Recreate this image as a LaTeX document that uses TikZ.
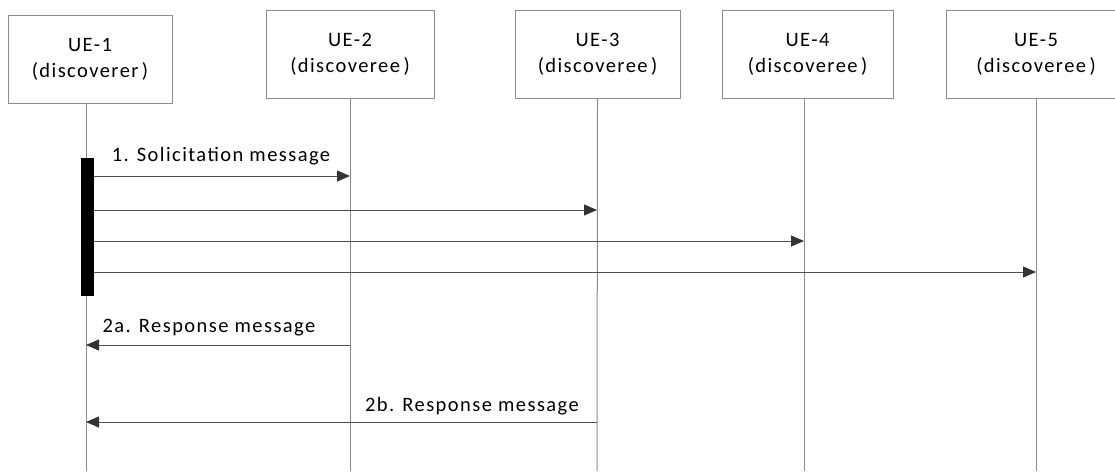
\documentclass[tikz,border=0pt]{standalone}
\usepackage{fontspec}
\setmainfont{Carlito}[LetterSpace=7]
\usetikzlibrary{arrows.meta}
\definecolor{lifegray}{HTML}{8C8C8C}
\definecolor{arrowgray}{HTML}{505050}
\definecolor{tipgray}{HTML}{333333}
\tikzset{
  uebox/.style={draw=lifegray, line width=1pt, fill=white, minimum height=88pt, inner sep=0pt, align=center, font=\fontsize{20.5}{26}\selectfont},
  lifeline/.style={draw=lifegray, line width=1pt},
  msg/.style={draw=arrowgray, line width=0.9pt, -{Triangle[length=13pt,width=11pt,fill=tipgray,color=tipgray]}},
  lbl/.style={font=\fontsize{20.5}{24}\selectfont, inner sep=0pt, anchor=base},
  actbar/.style={fill=black, draw=none}
}
\begin{document}
\begin{tikzpicture}[x=1pt,y=-1pt]
\useasboundingbox (0,0) rectangle (1115,471);
% boxes
\node[uebox, minimum width=164pt] (ue1) at (90,59) {UE-1\\(discoverer\,)};
\node[uebox, minimum width=168pt] (ue2) at (350,54) {UE-2\\(discoveree\,)};
\node[uebox, minimum width=165pt] (ue3) at (597.5,54) {UE-3\\(discoveree\,)};
\node[uebox, minimum width=171pt] (ue4) at (807.5,54) {UE-4\\(discoveree\,)};
\node[uebox, minimum width=180pt] (ue5) at (1036,54) {UE-5\\(discoveree\,)};
% lifeline ends
\coordinate (e1) at (86,471);
\coordinate (e2) at (350,471);
\coordinate (e3) at (597,471);
\coordinate (e4) at (804,471);
\coordinate (e5) at (1036,471);
\coordinate (s1) at (86,103);
\draw[lifeline] (s1) -- (e1);
\draw[lifeline] (ue2.south) -- (e2);
\draw[lifeline] (ue3.south) -- (e3);
\draw[lifeline] (e4 |- ue4.south) -- (e4);
\draw[lifeline] (ue5.south) -- (e5);
% activation bar
\node[actbar, minimum width=13.5pt, minimum height=138pt, inner sep=0pt] (bar) at (87.5,227) {};
% message coordinates
\coordinate (a1) at (bar.east |- 0,176);
\coordinate (b1) at (350,176);
\coordinate (a2) at (bar.east |- 0,210);
\coordinate (b2) at (597,210);
\coordinate (a3) at (bar.east |- 0,241);
\coordinate (b3) at (804,241);
\coordinate (a4) at (bar.east |- 0,272);
\coordinate (b4) at (1036,272);
\coordinate (r2a) at (350,345);
\coordinate (t2a) at (86,345);
\coordinate (r2b) at (597,422);
\coordinate (t2b) at (86,422);
\draw[msg] (a1) -- (b1);
\draw[msg] (a2) -- (b2);
\draw[msg] (a3) -- (b3);
\draw[msg] (a4) -- (b4);
\draw[msg] (r2a) -- (t2a);
\draw[msg] (r2b) -- (t2b);
% labels
\node[lbl] (l1) at (221,161) {1. Solicitation message};
\node[lbl] (l2a) at (209,332) {2a. Response message};
\node[lbl] (l2b) at (472,411) {2b. Response message};
\end{tikzpicture}
\end{document}
